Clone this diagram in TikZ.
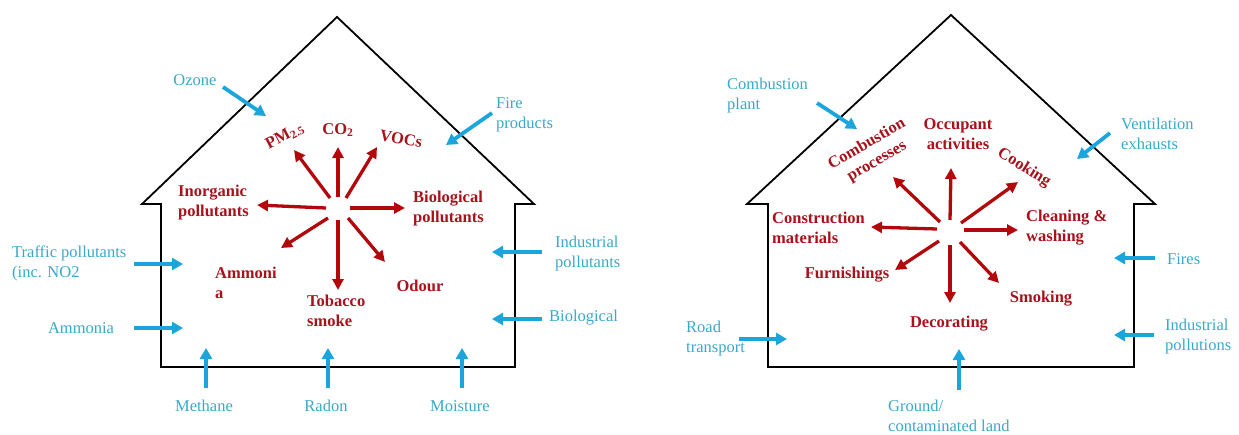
\documentclass[tikz,border=0pt]{standalone}
\usepackage{fontspec}
\setmainfont{Liberation Serif}
\usetikzlibrary{arrows.meta}
\definecolor{cyanT}{RGB}{58,168,200}
\definecolor{cyanA}{RGB}{28,164,220}
\definecolor{redT}{RGB}{168,18,28}
\definecolor{redA}{RGB}{178,8,12}
\tikzset{
  house/.style={draw=black, line width=1.8pt, line join=miter},
  inarrow/.style={draw=cyanA, line width=3.8pt, -{Triangle[length=11pt,width=12pt]}},
  outarrow/.style={draw=redA, line width=3.3pt, -{Triangle[length=11pt,width=11pt]}},
  ctext/.style={text=cyanT, inner sep=0pt, font=\fontsize{16.5}{20}\selectfont},
  rtext/.style={text=redT, inner sep=0pt, font=\fontsize{16.5}{20}\selectfont\bfseries},
}
\begin{document}
\begin{tikzpicture}[x=1pt,y=-1pt]
\useasboundingbox (0,0) rectangle (1239,434);
% ---------- left house ----------
\draw[house] (161,204) -- (142,204) -- (337,17) -- (534,204) -- (515,204) -- (515,367) -- (161,367) -- cycle;
% red labels
\node[rtext, rotate=28] (pm) at (285,136) {PM\textsubscript{2.5}};
\node[rtext] (co2) at (338,130) {CO\textsubscript{2}};
\node[rtext, rotate=-10] (voc) at (401,139) {VOCs};
\node[rtext, anchor=west, align=left] (inorg) at (178,203) {Inorganic\\pollutants};
\node[rtext, anchor=west, align=left] (bio) at (413,209) {Biological\\pollutants};
\node[rtext, anchor=west, align=left] (amm) at (215,283) {Ammoni\\a};
\node[rtext, anchor=west, align=left] (tob) at (307,311) {Tobacco\\smoke};
\node[rtext] (odour) at (420,286) {Odour};
% red arrows
\coordinate (a1s) at (330,198); \coordinate (a1e) at (294,150);
\coordinate (a2s) at (338,197); \coordinate (a2e) at (338,147);
\coordinate (a3s) at (346,198); \coordinate (a3e) at (377,147);
\coordinate (a4s) at (326,208); \coordinate (a4e) at (257,205);
\coordinate (a5s) at (350,208); \coordinate (a5e) at (405,208);
\coordinate (a6s) at (328,218); \coordinate (a6e) at (281,248);
\coordinate (a7s) at (338,220); \coordinate (a7e) at (338,290);
\coordinate (a8s) at (348,218); \coordinate (a8e) at (385,262);
\foreach \i in {1,...,8} {\draw[outarrow] (a\i s) -- (a\i e);}
% cyan labels
\node[ctext] (ozone) at (195,80) {Ozone};
\node[ctext, anchor=west, align=left] (fire) at (496,115) {Fire\\products};
\node[ctext, anchor=west, align=left] (traffic) at (12,263) {Traffic pollutants\\(inc. NO2};
\node[ctext] (ammonia) at (81,328) {Ammonia};
\node[ctext, anchor=west, align=left] (indus) at (555,254) {Industrial\\pollutants};
\node[ctext, anchor=west] (biolog) at (549,318) {Biological};
\node[ctext] (methane) at (204,406) {Methane};
\node[ctext] (radon) at (326,406) {Radon};
\node[ctext] (moist) at (460,406) {Moisture};
% cyan arrows
\coordinate (b1s) at (223,87);  \coordinate (b1e) at (266,116);
\coordinate (b2s) at (492,113); \coordinate (b2e) at (446,145);
\coordinate (b3s) at (134,264); \coordinate (b3e) at (183,264);
\coordinate (b4s) at (134,328); \coordinate (b4e) at (183,328);
\coordinate (b5s) at (542,252); \coordinate (b5e) at (492,252);
\coordinate (b6s) at (542,319); \coordinate (b6e) at (492,319);
\coordinate (b7s) at (206,388); \coordinate (b7e) at (206,348);
\coordinate (b8s) at (328,388); \coordinate (b8e) at (328,348);
\coordinate (b9s) at (462,388); \coordinate (b9e) at (462,348);
\foreach \i in {1,...,9} {\draw[inarrow] (b\i s) -- (b\i e);}
% ---------- right house ----------
\draw[house] (768,204) -- (747,204) -- (951,15) -- (1155,204) -- (1134,204) -- (1134,367) -- (768,367) -- cycle;
% red labels
\node[rtext, rotate=30, align=center] (combp) at (872,153) {Combustion\\processes};
\node[rtext, align=center] (occ) at (958,134) {Occupant\\activities};
\node[rtext, rotate=-32] (cook) at (1024,168) {Cooking};
\node[rtext, anchor=west, align=left] (constr) at (772,228) {Construction\\materials};
\node[rtext, anchor=west, align=left] (clean) at (1026,228) {Cleaning \&\\washing};
\node[rtext] (furn) at (847,275) {Furnishings};
\node[rtext] (smok) at (1041,299) {Smoking};
\node[rtext] (deco) at (949,324) {Decorating};
% red arrows
\coordinate (c1s) at (940,222); \coordinate (c1e) at (893,177);
\coordinate (c2s) at (950,220); \coordinate (c2e) at (951,168);
\coordinate (c3s) at (961,223); \coordinate (c3e) at (1018,182);
\coordinate (c4s) at (937,229); \coordinate (c4e) at (871,227);
\coordinate (c5s) at (964,230); \coordinate (c5e) at (1018,230);
\coordinate (c6s) at (939,241); \coordinate (c6e) at (895,270);
\coordinate (c7s) at (950,245); \coordinate (c7e) at (950,303);
\coordinate (c8s) at (960,242); \coordinate (c8e) at (999,283);
\foreach \i in {1,...,8} {\draw[outarrow] (c\i s) -- (c\i e);}
% cyan labels
\node[ctext, anchor=west, align=left] (cplant) at (727,96) {Combustion\\plant};
\node[ctext, anchor=west, align=left] (vent) at (1121,134) {Ventilation\\exhausts};
\node[ctext, anchor=west, align=left] (road) at (686,339) {Road\\transport};
\node[ctext, anchor=west] (fires) at (1167,259) {Fires};
\node[ctext, anchor=west, align=left] (indp) at (1165,337) {Industrial\\pollutions};
\node[ctext, anchor=west, align=left] (ground) at (888,416) {Ground/\\contaminated land};
% cyan arrows
\coordinate (d1s) at (817,103);  \coordinate (d1e) at (857,129);
\coordinate (d2s) at (1110,133); \coordinate (d2e) at (1077,159);
\coordinate (d3s) at (739,339);  \coordinate (d3e) at (787,339);
\coordinate (d4s) at (1155,258); \coordinate (d4e) at (1114,258);
\coordinate (d5s) at (1154,335); \coordinate (d5e) at (1114,335);
\coordinate (d6s) at (959,390);  \coordinate (d6e) at (959,349);
\foreach \i in {1,...,6} {\draw[inarrow] (d\i s) -- (d\i e);}
\end{tikzpicture}
\end{document}
